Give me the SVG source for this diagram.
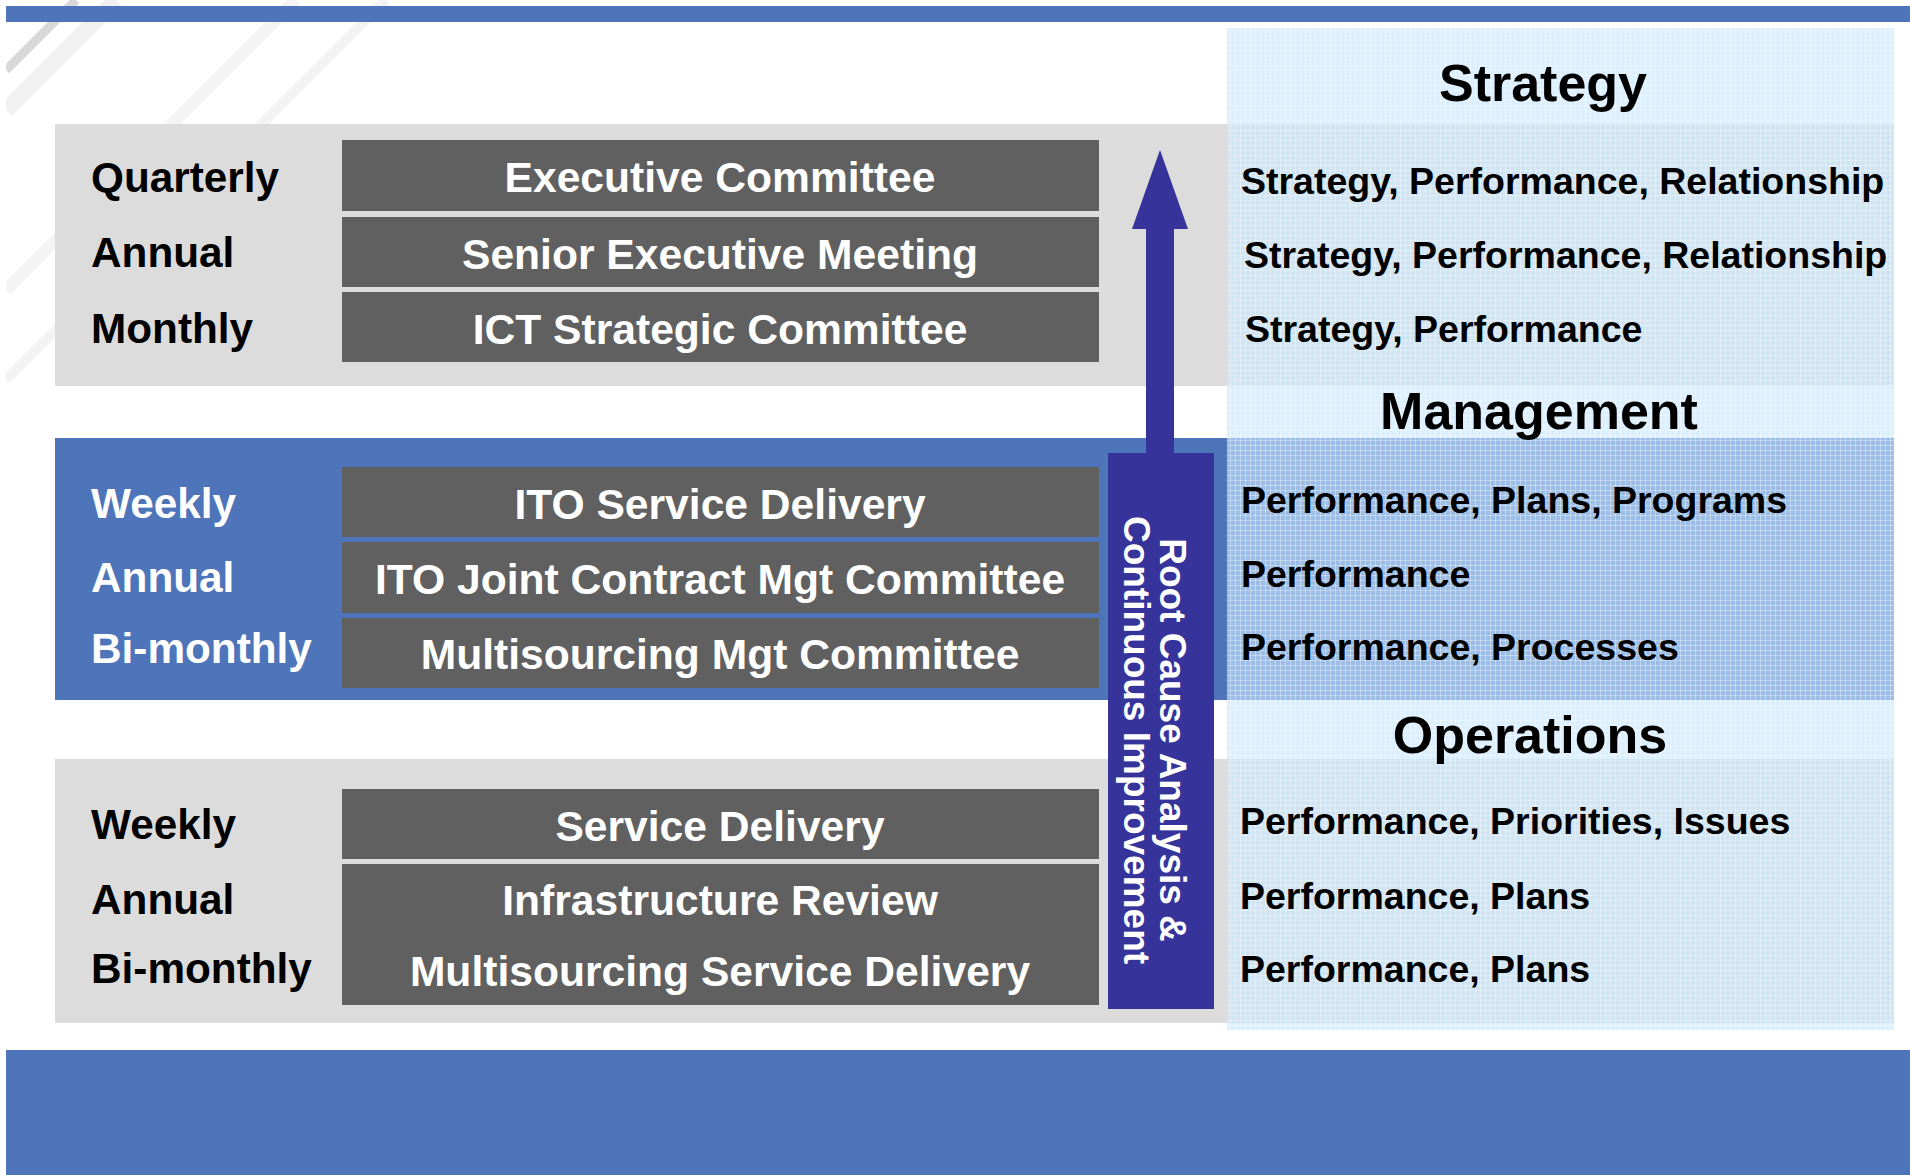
<svg xmlns="http://www.w3.org/2000/svg" width="1910" height="1175" viewBox="0 0 1910 1175">
<defs>
<style>
.lbl{font-family:"Liberation Sans",Arial,sans-serif;font-weight:bold;font-size:42.3px}
.dk{fill:#000}
.wt{fill:#fff}
.box{fill:#606060}
.bt{font-family:"Liberation Sans",Arial,sans-serif;font-weight:bold;font-size:42.6px;fill:#fff;text-anchor:middle}
.rt{font-family:"Liberation Sans",Arial,sans-serif;font-weight:bold;font-size:37.5px;fill:#000}
.hd{font-family:"Liberation Sans",Arial,sans-serif;font-weight:bold;font-size:52px;fill:#000;text-anchor:middle}
.st{fill:none;stroke-linecap:butt}
</style>
<pattern id="grid" width="5" height="5" patternUnits="userSpaceOnUse">
<path d="M0 0.5H5M0.5 0V5" stroke="#ffffff" stroke-opacity="0.35" stroke-width="1" fill="none"/>
</pattern>
<clipPath id="bgclip"><rect x="6" y="0" width="1904" height="1050"/></clipPath>
</defs>
<rect x="0" y="0" width="1910" height="1175" fill="#ffffff"/>
<g id="background" clip-path="url(#bgclip)">
<line class="st" x1="6" y1="110" x2="116" y2="0" stroke="#f1f1f1" stroke-width="16"/>
<line class="st" x1="6" y1="290" x2="296" y2="0" stroke="#f4f4f4" stroke-width="12"/>
<line class="st" x1="6" y1="380" x2="386" y2="0" stroke="#f3f3f3" stroke-width="10"/>
<line class="st" x1="6" y1="70" x2="76" y2="0" stroke="#d9d9d9" stroke-width="9"/>
</g>
<rect x="6" y="6" width="1904" height="16" fill="#4e75b9"/>
<rect x="6" y="1050" width="1904" height="125" fill="#4e75b9"/>
<g id="right-column">
<rect x="1227" y="28" width="667" height="1002" fill="#dcefff"/>
<rect x="1227" y="124" width="667" height="262" fill="#d1e4f1"/>
<rect x="1227" y="438" width="667" height="262" fill="#9cbde6"/>
<rect x="1227" y="759" width="667" height="264" fill="#d1e4f1"/>
<rect x="1227" y="28" width="667" height="1002" fill="url(#grid)"/>
</g>
<g id="panel-strategy">
<rect x="55" y="124" width="1172" height="262" fill="#dcdcdc"/>
<text class="hd" x="1543" y="101">Strategy</text>
<text class="lbl dk" x="91" y="192">Quarterly</text>
<text class="lbl dk" x="91" y="267">Annual</text>
<text class="lbl dk" x="91" y="343">Monthly</text>
<rect class="box" x="342" y="140" width="757" height="71"/>
<rect class="box" x="342" y="217" width="757" height="70"/>
<rect class="box" x="342" y="292" width="757" height="70"/>
<text class="bt" x="720" y="192">Executive Committee</text>
<text class="bt" x="720" y="269">Senior Executive Meeting</text>
<text class="bt" x="720" y="344">ICT Strategic Committee</text>
<text class="rt" x="1241" y="194">Strategy, Performance, Relationship</text>
<text class="rt" x="1244" y="268">Strategy, Performance, Relationship</text>
<text class="rt" x="1245" y="342">Strategy, Performance</text>
</g>
<g id="panel-management">
<rect x="55" y="438" width="1172" height="262" fill="#4e75b9"/>
<text class="hd" x="1539" y="429">Management</text>
<text class="lbl wt" x="91" y="518">Weekly</text>
<text class="lbl wt" x="91" y="592">Annual</text>
<text class="lbl wt" x="91" y="663">Bi-monthly</text>
<rect class="box" x="342" y="467" width="757" height="70"/>
<rect class="box" x="342" y="542" width="757" height="71"/>
<rect class="box" x="342" y="618" width="757" height="70"/>
<text class="bt" x="720" y="519">ITO Service Delivery</text>
<text class="bt" x="720" y="594">ITO Joint Contract Mgt Committee</text>
<text class="bt" x="720" y="669">Multisourcing Mgt Committee</text>
<text class="rt" x="1241" y="513">Performance, Plans, Programs</text>
<text class="rt" x="1241" y="587">Performance</text>
<text class="rt" x="1241" y="660">Performance, Processes</text>
</g>
<g id="panel-operations">
<rect x="55" y="759" width="1172" height="264" fill="#dcdcdc"/>
<text class="hd" x="1530" y="753">Operations</text>
<text class="lbl dk" x="91" y="839">Weekly</text>
<text class="lbl dk" x="91" y="914">Annual</text>
<text class="lbl dk" x="91" y="983">Bi-monthly</text>
<rect class="box" x="342" y="789" width="757" height="70"/>
<rect class="box" x="342" y="864" width="757" height="141"/>
<text class="bt" x="720" y="841">Service Delivery</text>
<text class="bt" x="720" y="915">Infrastructure Review</text>
<text class="bt" x="720" y="986">Multisourcing Service Delivery</text>
<text class="rt" x="1240" y="834">Performance, Priorities, Issues</text>
<text class="rt" x="1240" y="909">Performance, Plans</text>
<text class="rt" x="1240" y="982">Performance, Plans</text>
</g>
<g id="connectors">
<polygon points="1160,150 1188,229 1174,229 1174,455 1146,455 1146,229 1132,229" fill="#36339a"/>
</g>
<g id="root-cause">
<rect x="1108" y="453" width="106" height="556" fill="#36339a"/>
<g transform="translate(1160,740) rotate(90)">
<text x="0" y="0" font-family="Liberation Sans, Arial, sans-serif" font-weight="bold" font-size="37" fill="#fff" text-anchor="middle">Root Cause Analysis &amp;</text>
<text x="0" y="36" font-family="Liberation Sans, Arial, sans-serif" font-weight="bold" font-size="37" fill="#fff" text-anchor="middle">Continuous Improvement</text>
</g>
</g>
</svg>
